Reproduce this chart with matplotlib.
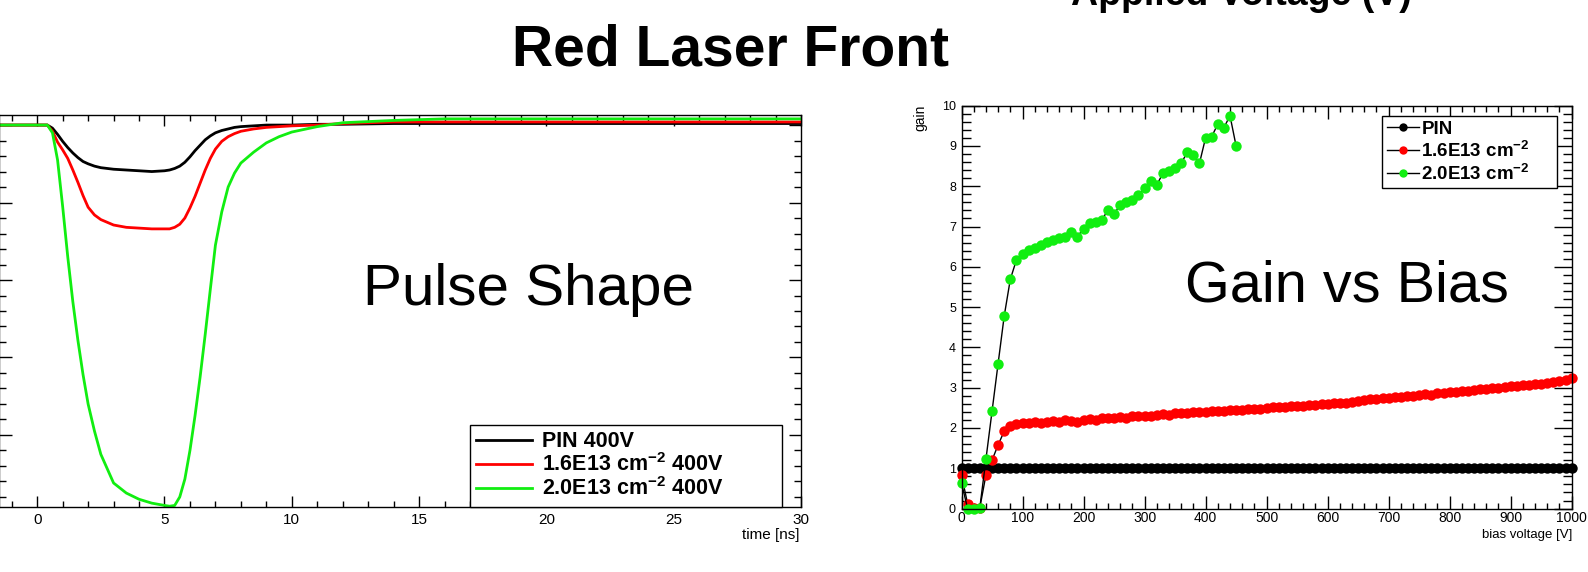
import matplotlib
matplotlib.use("Agg")
import matplotlib.pyplot as plt
from matplotlib.ticker import MultipleLocator

plt.rcParams['font.family'] = ['Liberation Sans', 'DejaVu Sans']
plt.rcParams['mathtext.fontset'] = 'custom'
plt.rcParams['mathtext.rm'] = 'Liberation Sans:bold'
plt.rcParams['mathtext.it'] = 'Liberation Sans:bold'
plt.rcParams['mathtext.bf'] = 'Liberation Sans:bold'

# ---------------- data: pulse shape (left) ----------------
pulse_time = [-1.5, -1.0, 0.0, 0.4, 0.6, 0.8, 1.0, 1.2, 1.4, 1.6, 1.8, 2.0,
              2.25, 2.5, 3.0, 3.5, 4.0, 4.5, 5.0, 5.2, 5.4, 5.6, 5.8, 6.0, 6.2, 6.4,
              6.6, 6.8, 7.0, 7.25, 7.5, 7.75, 8.0, 8.5, 9.0, 9.5, 10.0, 11.0, 12.0,
              14.0, 16.0, 18.0, 20.0, 22.0, 24.0, 26.0, 28.0, 30.0]
pulse_pin = [0.0, 0.0, 0.0, 0.0, -0.04, -0.12, -0.21, -0.29, -0.36, -0.42, -0.47, -0.50,
             -0.53, -0.55, -0.57, -0.58, -0.59, -0.60, -0.59, -0.58, -0.56, -0.53, -0.48,
             -0.41, -0.33, -0.26, -0.19, -0.14, -0.10, -0.07, -0.05, -0.03, -0.02, -0.01,
             0.0, 0.0, 0.0, 0.01, 0.01, 0.02, 0.02, 0.02, 0.02, 0.02, 0.02, 0.02, 0.02, 0.02]
pulse_16 = [0.0, 0.0, 0.0, 0.0, -0.08, -0.22, -0.32, -0.43, -0.58, -0.74, -0.91, -1.06,
            -1.16, -1.22, -1.29, -1.32, -1.33, -1.34, -1.34, -1.34, -1.32, -1.28, -1.20,
            -1.07, -0.92, -0.75, -0.58, -0.43, -0.31, -0.21, -0.15, -0.11, -0.08, -0.05,
            -0.03, -0.02, -0.01, 0.0, 0.02, 0.04, 0.04, 0.04, 0.04, 0.04, 0.04, 0.04, 0.04, 0.04]
pulse_20 = [0.0, 0.0, 0.0, 0.0, -0.10, -0.45, -1.05, -1.70, -2.28, -2.78, -3.22, -3.60,
            -3.95, -4.25, -4.62, -4.75, -4.83, -4.88, -4.91, -4.92, -4.91, -4.80, -4.57,
            -4.20, -3.75, -3.25, -2.70, -2.12, -1.55, -1.12, -0.80, -0.62, -0.49, -0.35,
            -0.23, -0.15, -0.09, -0.02, 0.03, 0.06, 0.08, 0.08, 0.08, 0.08, 0.08, 0.08, 0.08, 0.08]
pulse_labels = ['PIN 400V', '1.6E13 cm$^{-2}$ 400V', '2.0E13 cm$^{-2}$ 400V']

# ---------------- data: gain vs bias (right) ----------------
bias_full = [0, 10, 20, 30, 40, 50, 60, 70, 80, 90, 100, 110, 120, 130, 140, 150, 160,
             170, 180, 190, 200, 210, 220, 230, 240, 250, 260, 270, 280, 290, 300, 310,
             320, 330, 340, 350, 360, 370, 380, 390, 400, 410, 420, 430, 440, 450, 460,
             470, 480, 490, 500, 510, 520, 530, 540, 550, 560, 570, 580, 590, 600, 610,
             620, 630, 640, 650, 660, 670, 680, 690, 700, 710, 720, 730, 740, 750, 760,
             770, 780, 790, 800, 810, 820, 830, 840, 850, 860, 870, 880, 890, 900, 910,
             920, 930, 940, 950, 960, 970, 980, 990, 1000]
gain_pin = [1.0, 1.0, 1.0, 1.0, 1.0, 1.0, 1.0, 1.0, 1.0, 1.0, 1.0, 1.0, 1.0, 1.0, 1.0,
            1.0, 1.0, 1.0, 1.0, 1.0, 1.0, 1.0, 1.0, 1.0, 1.0, 1.0, 1.0, 1.0, 1.0, 1.0,
            1.0, 1.0, 1.0, 1.0, 1.0, 1.0, 1.0, 1.0, 1.0, 1.0, 1.0, 1.0, 1.0, 1.0, 1.0,
            1.0, 1.0, 1.0, 1.0, 1.0, 1.0, 1.0, 1.0, 1.0, 1.0, 1.0, 1.0, 1.0, 1.0, 1.0,
            1.0, 1.0, 1.0, 1.0, 1.0, 1.0, 1.0, 1.0, 1.0, 1.0, 1.0, 1.0, 1.0, 1.0, 1.0,
            1.0, 1.0, 1.0, 1.0, 1.0, 1.0, 1.0, 1.0, 1.0, 1.0, 1.0, 1.0, 1.0, 1.0, 1.0,
            1.0, 1.0, 1.0, 1.0, 1.0, 1.0, 1.0, 1.0, 1.0, 1.0, 1.0]
gain_16 = [0.83, 0.12, 0.02, 0.02, 0.83, 1.20, 1.58, 1.92, 2.06, 2.10, 2.12, 2.12, 2.14,
           2.13, 2.16, 2.17, 2.16, 2.19, 2.18, 2.15, 2.20, 2.22, 2.21, 2.24, 2.25, 2.24,
           2.27, 2.26, 2.29, 2.30, 2.31, 2.30, 2.33, 2.34, 2.33, 2.36, 2.37, 2.36, 2.39,
           2.40, 2.39, 2.41, 2.43, 2.42, 2.44, 2.45, 2.44, 2.47, 2.48, 2.47, 2.50, 2.51,
           2.52, 2.51, 2.54, 2.55, 2.54, 2.57, 2.58, 2.59, 2.60, 2.62, 2.63, 2.62, 2.65,
           2.66, 2.70, 2.71, 2.72, 2.74, 2.75, 2.76, 2.78, 2.79, 2.80, 2.82, 2.84, 2.83,
           2.86, 2.87, 2.89, 2.90, 2.92, 2.93, 2.94, 2.96, 2.97, 2.99, 3.00, 3.01, 3.03,
           3.04, 3.06, 3.07, 3.09, 3.10, 3.12, 3.14, 3.16, 3.19, 3.24]
bias_20 = [0, 10, 20, 30, 40, 50, 60, 70, 80, 90, 100, 110, 120, 130, 140, 150, 160, 170,
           180, 190, 200, 210, 220, 230, 240, 250, 260, 270, 280, 290, 300, 310, 320, 330,
           340, 350, 360, 370, 380, 390, 400, 410, 420, 430, 440, 450]
gain_20 = [0.64, 0.0, 0.0, 0.02, 1.22, 2.41, 3.60, 4.78, 5.69, 6.17, 6.33, 6.42, 6.47,
           6.54, 6.62, 6.66, 6.72, 6.74, 6.87, 6.75, 6.95, 7.08, 7.12, 7.16, 7.41, 7.31,
           7.53, 7.60, 7.66, 7.78, 7.96, 8.13, 8.03, 8.32, 8.38, 8.44, 8.57, 8.84, 8.77,
           8.57, 9.20, 9.23, 9.54, 9.45, 9.75, 9.00]
gain_labels = ['PIN', '1.6E13 cm$^{-2}$', '2.0E13 cm$^{-2}$']

RED = '#ff0000'
GREEN = '#11ee11'

W, H = 1588, 572
fig = plt.figure(figsize=(W / 100, H / 100), dpi=100)
fig.patch.set_facecolor('white')


def box(l, r, t, b):
    return [l / W, 1 - b / H, (r - l) / W, (b - t) / H]


def fx(px):
    return px / W


def fy(py):
    return 1 - py / H


# ---------------- left panel ----------------
ax1 = fig.add_axes(box(-1, 801, 115, 507))
ax1.plot(pulse_time, pulse_pin, color='black', lw=2.0)
ax1.plot(pulse_time, pulse_16, color=RED, lw=2.0)
ax1.plot(pulse_time, pulse_20, color=GREEN, lw=2.0)
ax1.set_xlim(-1.5, 30)
ax1.set_ylim(-4.93, 0.13)
ax1.xaxis.set_major_locator(MultipleLocator(5))
ax1.xaxis.set_minor_locator(MultipleLocator(1))
ax1.yaxis.set_major_locator(MultipleLocator(1))
ax1.yaxis.set_minor_locator(MultipleLocator(0.2))
ax1.tick_params(which='both', direction='in', top=True, right=True, width=1.0,
                labelleft=False, labelsize=11, pad=4)
ax1.tick_params(axis='x', which='major', length=8)
ax1.tick_params(axis='x', which='minor', length=4.3)
ax1.tick_params(axis='y', which='major', length=9)
ax1.tick_params(axis='y', which='minor', length=5)
for s in ax1.spines.values():
    s.set_linewidth(1.0)
leg1 = ax1.legend(pulse_labels, loc='upper left',
                  bbox_to_anchor=(fx(470), fy(499), 312 / W, 74 / H),
                  bbox_transform=fig.transFigure, mode='expand', borderaxespad=0,
                  prop={'weight': 'bold', 'size': 15.5}, handlelength=2.6,
                  handletextpad=0.45, borderpad=0.3, labelspacing=0.05,
                  fancybox=False, framealpha=1, edgecolor='black')
leg1.get_frame().set_linewidth(1.0)
fig.text(fx(800), fy(535), 'time [ns]', ha='right', va='center', fontsize=11)

# ---------------- right panel ----------------
ax2 = fig.add_axes(box(961.5, 1571.7, 105.6, 508.6))
kw = dict(color='black', lw=1.0, marker='o', markersize=7.5, markeredgewidth=0,
          clip_on=False)
ax2.plot(bias_full, gain_pin, markerfacecolor='black', **kw)
ax2.plot(bias_full, gain_16, markerfacecolor=RED, **kw)
ax2.plot(bias_20, gain_20, markerfacecolor=GREEN, **kw)
ax2.set_xlim(0, 1000)
ax2.set_ylim(0, 10)
ax2.xaxis.set_major_locator(MultipleLocator(100))
ax2.xaxis.set_minor_locator(MultipleLocator(20))
ax2.yaxis.set_major_locator(MultipleLocator(1))
ax2.yaxis.set_minor_locator(MultipleLocator(0.2))
ax2.tick_params(which='both', direction='in', top=True, right=True, width=1.0)
ax2.tick_params(axis='x', which='major', length=9.4, labelsize=10, pad=2)
ax2.tick_params(axis='x', which='minor', length=4.3)
ax2.tick_params(axis='y', which='major', length=13, labelsize=9, pad=4)
ax2.tick_params(axis='y', which='minor', length=6.5)
for s in ax2.spines.values():
    s.set_linewidth(1.0)
leg2 = ax2.legend(gain_labels, loc='upper left',
                  bbox_to_anchor=(fx(1382), fy(191), 175 / W, 75 / H),
                  bbox_transform=fig.transFigure, mode='expand', borderaxespad=0,
                  prop={'weight': 'bold', 'size': 13.5}, handlelength=1.7,
                  handletextpad=0.15, borderpad=0.25, labelspacing=0.15,
                  numpoints=1, markerscale=0.8, fancybox=False, framealpha=1,
                  edgecolor='black')
leg2.get_frame().set_linewidth(1.0)
fig.text(fx(920), fy(105), 'gain', rotation=90, ha='center', va='top', fontsize=10)
fig.text(fx(1572), fy(535), 'bias voltage [V]', ha='right', va='center', fontsize=9.5)

# ---------------- slide texts ----------------
fig.text(fx(730), fy(65), 'Red Laser Front', ha='center', va='baseline',
         fontsize=41, fontweight='bold')
fig.text(fx(1241), fy(5), 'Applied Voltage (V)', ha='center', va='baseline',
         fontsize=27, fontweight='bold')
fig.text(fx(363), fy(305), 'Pulse Shape', ha='left', va='baseline', fontsize=42)
fig.text(fx(1185), fy(301), 'Gain vs Bias', ha='left', va='baseline', fontsize=41.5)

fig.savefig('out.png', dpi=100, facecolor='white')
